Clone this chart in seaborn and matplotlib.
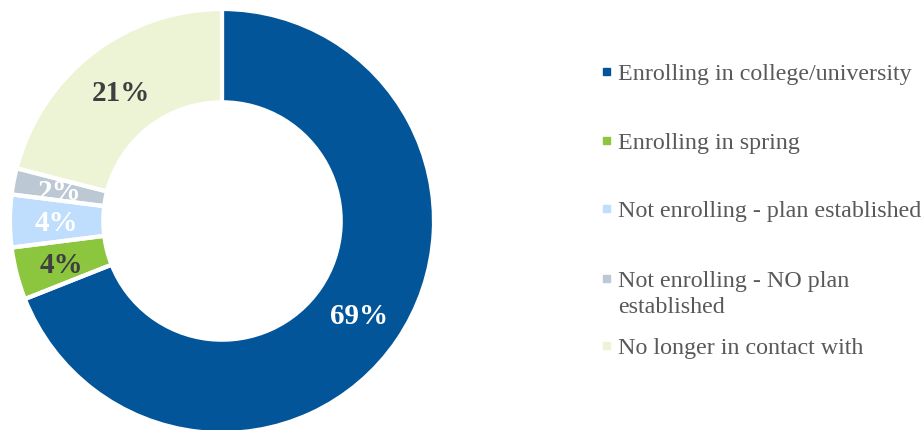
import matplotlib
matplotlib.use("Agg")
import matplotlib.pyplot as plt
import numpy as np
import seaborn as sns

sns.set_theme(style="white")
plt.rcParams["font.family"] = ["Liberation Serif", "DejaVu Serif"]

categories = [
    "Enrolling in college/university",
    "Enrolling in spring",
    "Not enrolling - plan established",
    "Not enrolling - NO plan\nestablished",
    "No longer in contact with",
]
shares = [69, 4, 4, 2, 21]
colors = ["#03559A", "#8CC63F", "#BFDDFC", "#BCC8D3", "#EDF4D6"]
label_colors = ["white", "#3F3F3F", "white", "white", "#3F3F3F"]

W, H = 921, 431
fig = plt.figure(figsize=(W / 100, H / 100), dpi=100)
fig.patch.set_facecolor("white")

# donut axes: square box, centred at (222, 222) px from top-left, radius 212 px
R = 212
cx, cy = 222, 222
ax = fig.add_axes([(cx - R) / W, (H - cy - R) / H, 2 * R / W, 2 * R / H])

ring = 0.44
wedges, _ = ax.pie(
    shares, colors=colors, startangle=90, counterclock=False,
    radius=1, wedgeprops=dict(width=ring, linewidth=0),
)

# percentage labels in the middle of the ring, clipped to their wedge
r_lab = 1 - ring / 2
for w, val, lc in zip(wedges, shares, label_colors):
    ang = np.deg2rad((w.theta1 + w.theta2) / 2)
    t = ax.annotate(f"{val}%", (r_lab * np.cos(ang), r_lab * np.sin(ang)),
                    xytext=(0, -6.8), textcoords="offset points",
                    ha="center", va="baseline", fontsize=21, fontweight="bold",
                    color=lc, zorder=3)
    t.set_clip_path(w)

# white separators drawn on top of everything
ax.pie(shares, colors=["none"] * len(shares), startangle=90, counterclock=False,
       radius=1, wedgeprops=dict(width=ring, linewidth=3, edgecolor="white",
                                 fill=False, zorder=5))
ax.set_xlim(-1, 1)
ax.set_ylim(-1, 1)
ax.set_aspect("equal")
ax.axis("off")

# legend
baselines = [80, 149, 217, 287, 354]
for lab, col, yb in zip(categories, colors, baselines):
    fig.patches.append(plt.Rectangle((603 / W, (H - yb + 4) / H), 7 / W, 7 / H,
                                     transform=fig.transFigure, color=col,
                                     figure=fig))
    lines = lab.split("\n")
    for i, line in enumerate(lines):
        fig.text(618 / W, (H - yb - 26 * i) / H, line, ha="left",
                 va="baseline", fontsize=17.3, color="#595959")

fig.savefig("out.png", dpi=100, facecolor="white")
